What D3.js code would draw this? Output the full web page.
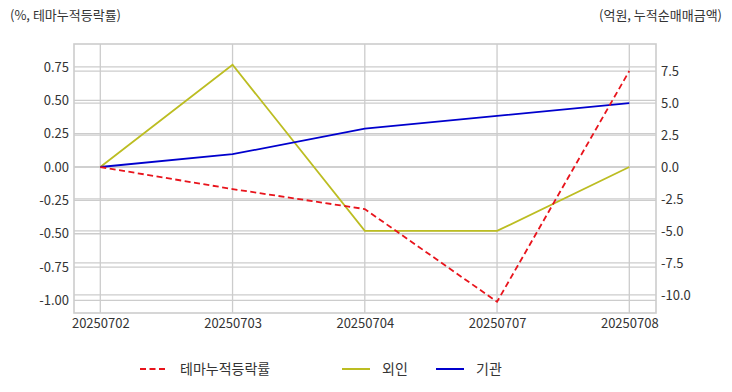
<!DOCTYPE html>
<html><head><meta charset="utf-8">
<script src="https://cdn.jsdelivr.net/npm/d3@7/dist/d3.min.js"></script>
<style>
body{margin:0;background:#fff;}
text{font-family:"Noto Sans CJK KR","Noto Sans",sans-serif;}
</style></head>
<body><svg id="c" width="732" height="392"></svg>
<script>
const categories = ["20250702","20250703","20250704","20250707","20250708"];
const themeReturn = [0, -0.165, -0.315, -1.01, 0.72];
const foreign = [0, 8.0, -5.0, -5.0, 0];
const institution = [0, 1.0, 3.0, 4.0, 5.0];
const leftTicks = [0.75, 0.5, 0.25, 0, -0.25, -0.5, -0.75, -1.0];
const rightTicks = [7.5, 5.0, 2.5, 0, -2.5, -5.0, -7.5, -10.0];
const seriesNames = ["테마누적등락률", "외인", "기관"];

const svg = d3.select("#c");
const L = 74, R = 656, T = 44, B = 313;
const x = d3.scalePoint().domain(categories).range([100.3, 629.3]);
const yL = d3.scaleLinear().domain([-1.094, 0.922]).range([B, T]);
const yR = d3.scaleLinear().domain([-11.42, 9.62]).range([B, T]);

const grid = svg.append("g").attr("stroke", "#cccccc").attr("stroke-width", 1.3);
leftTicks.forEach(v => grid.append("line").attr("x1", L).attr("x2", R).attr("y1", yL(v)).attr("y2", yL(v)));
rightTicks.forEach(v => grid.append("line").attr("x1", L).attr("x2", R).attr("y1", yR(v)).attr("y2", yR(v)));
categories.forEach(c => grid.append("line").attr("x1", x(c)).attr("x2", x(c)).attr("y1", T).attr("y2", B));
svg.append("rect").attr("x", L).attr("y", T).attr("width", R - L).attr("height", B - T)
  .attr("fill", "none").attr("stroke", "#cccccc").attr("stroke-width", 1.6);

const axL = d3.axisLeft(yL).tickValues(leftTicks).tickFormat(d3.format(".2f")).tickSize(0).tickPadding(5);
const axR = d3.axisRight(yR).tickValues(rightTicks).tickFormat(d3.format(".1f")).tickSize(0).tickPadding(5);
const axB = d3.axisBottom(x).tickSize(0).tickPadding(6);
function styleAxis(g){ g.select(".domain").remove(); g.selectAll("text").attr("font-size", 13).attr("fill", "#333")
  .style("font-family", '"Noto Sans CJK KR","Noto Sans",sans-serif'); }
svg.append("g").attr("transform", `translate(${L},0)`).call(axL).call(styleAxis);
svg.append("g").attr("transform", `translate(${R},0)`).call(axR).call(styleAxis);
svg.append("g").attr("transform", `translate(0,${B})`).call(axB).call(styleAxis);
svg.selectAll("text").filter(function(){return this.textContent.startsWith("−");})
  .text(function(){return this.textContent.replace("−", "-");});

const lineL = d3.line().x((d,i) => x(categories[i])).y(d => yL(d));
const lineR = d3.line().x((d,i) => x(categories[i])).y(d => yR(d));
svg.append("path").datum(foreign).attr("d", lineR).attr("fill", "none").attr("stroke", "#bcbd22").attr("stroke-width", 1.8);
svg.append("path").datum(institution).attr("d", lineR).attr("fill", "none").attr("stroke", "#0000cd").attr("stroke-width", 1.8);
svg.append("path").datum(themeReturn).attr("d", lineL).attr("fill", "none").attr("stroke", "#e8141c").attr("stroke-width", 1.8).attr("stroke-dasharray", "6,3.5");

svg.append("text").attr("x", 10).attr("y", 20).attr("font-size", 13).attr("fill", "#333").text("(%, 테마누적등락률)");
svg.append("text").attr("x", 722).attr("y", 20).attr("text-anchor", "end").attr("font-size", 13).attr("fill", "#333").text("(억원, 누적순매매금액)");

const legend = [
  {name: seriesNames[0], color: "#e8141c", dash: "6,3.5", x: 140},
  {name: seriesNames[1], color: "#bcbd22", dash: null, x: 342},
  {name: seriesNames[2], color: "#0000cd", dash: null, x: 436}
];
legend.forEach(l => {
  svg.append("line").attr("x1", l.x).attr("x2", l.x + 28).attr("y1", 369).attr("y2", 369)
    .attr("stroke", l.color).attr("stroke-width", 2).attr("stroke-dasharray", l.dash);
  svg.append("text").attr("x", l.x + 40).attr("y", 374).attr("font-size", 14).attr("fill", "#333").text(l.name);
});
</script></body></html>
